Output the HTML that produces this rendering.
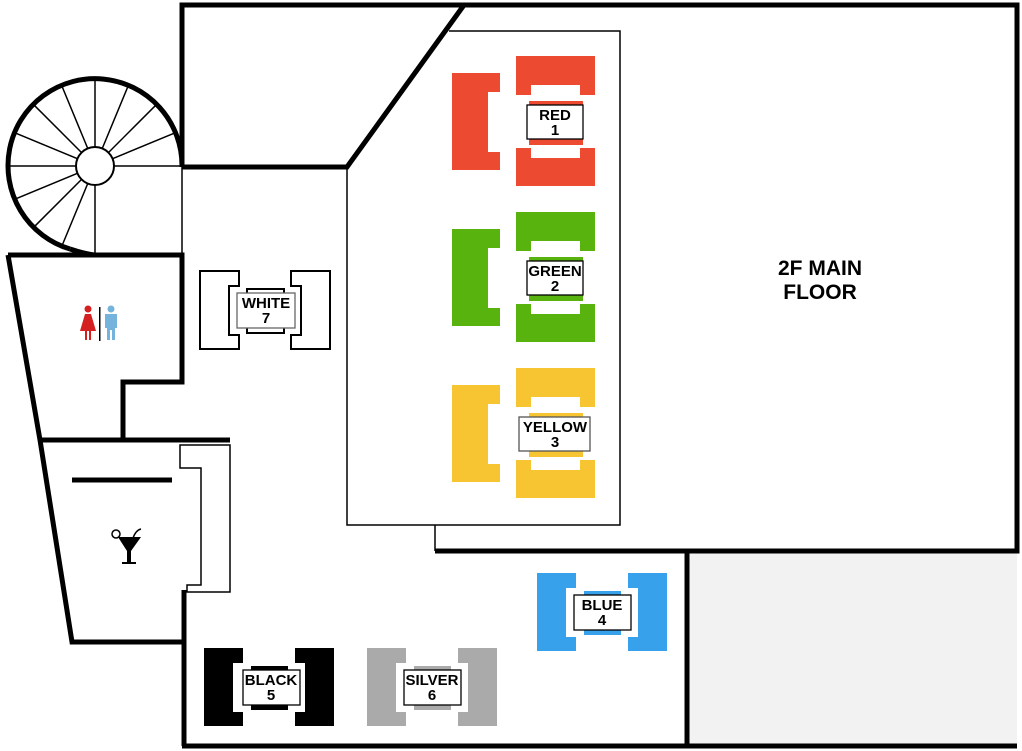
<!DOCTYPE html>
<html><head><meta charset="utf-8"><style>
html,body{margin:0;padding:0;background:#fff;}
svg{display:block;}
text{font-family:"Liberation Sans",sans-serif;font-weight:bold;text-anchor:middle;}
</style></head><body>
<svg width="1022" height="751" viewBox="0 0 1022 751" xmlns="http://www.w3.org/2000/svg">
<defs>
<g id="vt">
  <path d="M452,73H500V92H488V152H500V170H452Z"/>
  <path d="M516,56H595V95H580V85H531V95H516Z"/>
  <path d="M516,186H595V148H580V158H531V148H516Z"/>
  <rect x="529" y="101" width="54" height="44"/>
</g>
<g id="ht">
  <path d="M537,573H576V588H566V637H576V651H537Z"/>
  <path d="M667,573H628V588H638V637H628V651H667Z"/>
  <rect x="584" y="591" width="37" height="44"/>
</g>
</defs>
<rect x="689" y="553" width="328" height="193" fill="#f2f2f2"/>

<g fill="none" stroke="#000" stroke-width="1.5">
  <path d="M449,31H620V525H347V167"/>
  <path d="M435,525V551"/>
  <path d="M182,167V255"/>
  <path d="M180,445H230V592H187V585H201V468H180Z"/>
</g>

<g fill="none" stroke="#000" stroke-width="5" stroke-linejoin="miter">
  <path d="M182,167V5H1017V551H435"/>
  <path d="M464,5L347,167H182"/>
  <path d="M687,551V746"/>
  <path d="M182,746H1017"/>
  <path d="M184,590V746"/>
  <path d="M8,255H182V382H123V440"/>
  <path d="M8,255L40,440L72,642H184V590"/>
  <path d="M40,440H230"/>
  <path d="M72,480H172"/>
  <path d="M182,166A87,87 0 1 0 70,249"/>
  <path d="M70,249Q85,254 95,255"/>
</g>

<g stroke="#000" stroke-width="1.5">
<line x1="114" y1="166" x2="182" y2="166"/>
<line x1="112.6" y1="158.7" x2="174.5" y2="133.1"/>
<line x1="108.4" y1="152.6" x2="155.8" y2="105.2"/>
<line x1="102.3" y1="148.4" x2="127.9" y2="86.5"/>
<line x1="95" y1="147" x2="95" y2="80"/>
<line x1="87.7" y1="148.4" x2="62.1" y2="86.5"/>
<line x1="81.6" y1="152.6" x2="34.2" y2="105.2"/>
<line x1="77.4" y1="158.7" x2="15.5" y2="133.1"/>
<line x1="76" y1="166" x2="9" y2="166"/>
<line x1="77.4" y1="173.3" x2="15.5" y2="198.9"/>
<line x1="81.6" y1="179.4" x2="34.2" y2="226.8"/>
<line x1="87.7" y1="183.6" x2="62.1" y2="245.5"/>
<line x1="95" y1="185" x2="95" y2="253"/>
</g>
<circle cx="95" cy="166" r="19" fill="#fff" stroke="#000" stroke-width="2"/>

<use href="#vt" fill="#ec4b32"/>
<use href="#vt" fill="#58b30f" transform="translate(0,156)"/>
<use href="#vt" fill="#f8c532" transform="translate(0,312)"/>
<g fill="#fff" stroke="#000" stroke-width="1.3">
  <rect x="527" y="105" width="56" height="34"/>
  <rect x="527" y="261" width="56" height="34"/>
  <rect x="519" y="417" width="71" height="34" stroke="#555"/>
</g>
<g font-size="15">
<text x="555" y="120">RED</text><text x="555" y="135">1</text>
<text x="555" y="276">GREEN</text><text x="555" y="291">2</text>
<text x="555" y="432">YELLOW</text><text x="555" y="447">3</text>
</g>

<use href="#ht" fill="#38a1ec"/>
<use href="#ht" fill="#000" transform="translate(-333,75)"/>
<use href="#ht" fill="#aaaaaa" transform="translate(-170,75)"/>
<use href="#ht" fill="#fff" stroke="#000" stroke-width="2" transform="translate(-337,-302)"/>
<g fill="#fff" stroke="#000" stroke-width="1.3">
  <rect x="574" y="595" width="57" height="35"/>
  <rect x="243" y="670" width="57" height="35"/>
  <rect x="404" y="670" width="57" height="35"/>
  <rect x="237" y="293" width="58" height="35" stroke="#666"/>
</g>
<g font-size="15">
<text x="602" y="610">BLUE</text><text x="602" y="625">4</text>
<text x="271" y="685">BLACK</text><text x="271" y="700">5</text>
<text x="432" y="685">SILVER</text><text x="432" y="700">6</text>
<text x="266" y="308">WHITE</text><text x="266" y="323">7</text>
</g>

<text x="820" y="275" font-size="21">2F MAIN</text>
<text x="820" y="299" font-size="21">FLOOR</text>

<g fill="#d42020">
  <circle cx="88" cy="309" r="3.5"/>
  <path d="M85,314H91L96,331H91V340H89V331H87V340H85V331H80Z"/>
</g>
<rect x="99" y="307" width="1.5" height="34" fill="#000"/>
<g fill="#74b3dc">
  <circle cx="111" cy="309" r="3.5"/>
  <path d="M105,314H117V328H115V340H112V330H110V340H107V328H105Z"/>
</g>

<g>
  <path d="M118,537H141L131,551V562H136V564H122V562H127V551Z" fill="#000"/>
  <path d="M133,538Q136,530 141,529" stroke="#000" stroke-width="1.5" fill="none"/>
  <circle cx="116" cy="534" r="4" fill="#fff" stroke="#000" stroke-width="1.5"/>
</g>
</svg>
</body></html>
